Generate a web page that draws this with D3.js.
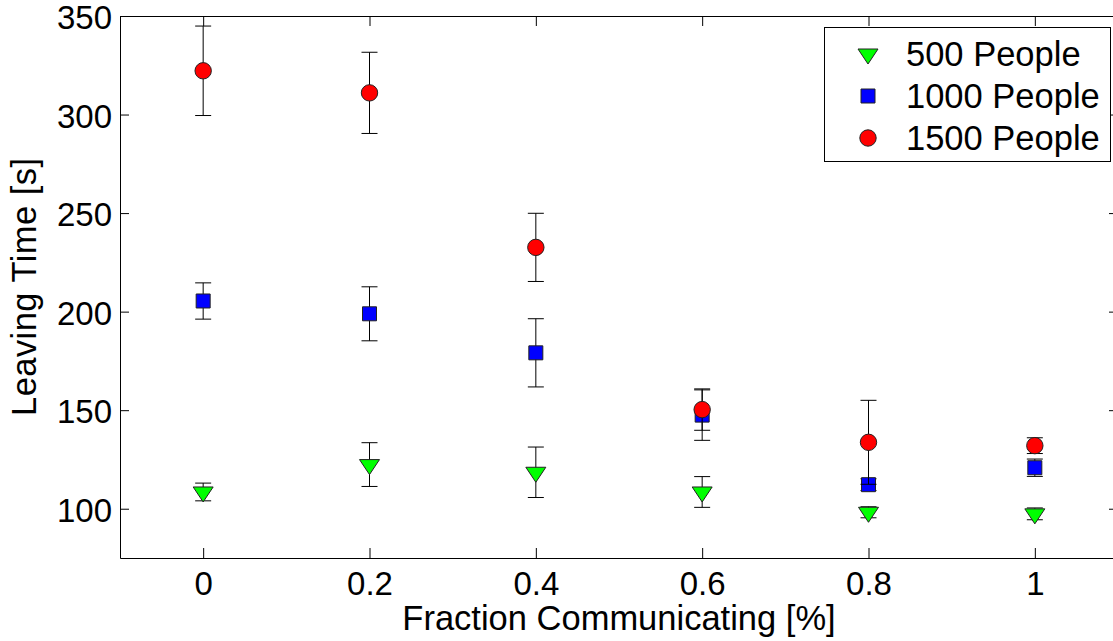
<!DOCTYPE html>
<html lang="en">
<head>
    <meta charset="UTF-8">
    <title>Leaving Time vs Fraction Communicating</title>
    <script src="https://d3js.org/d3.v7.min.js"></script>
    <style>
        body { margin: 0; background: #fff; }
        svg { display: block; font-family: "Liberation Sans", Arial, sans-serif; }
        .axis path, .axis line { stroke: #000; stroke-width: 1px; }
        .axis text { fill: #000; font-family: "Liberation Sans", Arial, sans-serif; }
        .err { stroke: #000; stroke-width: 1px; fill: none; }
        .label { font-size: 34.5px; fill: #000; }
    </style>
</head>
<body>
<svg width="1113" height="641"></svg>
<script>
    // x positions and tick values
    const fractions = [0, 0.2, 0.4, 0.6, 0.8, 1];
    const yTicks = [100, 150, 200, 250, 300, 350];

    // mean leaving time and error half-width per crowd size
    const people500 = [108.5, 122.4, 118.5, 108.5, 98.2, 97.4];
    const err500 = [4.5, 11.1, 12.8, 7.8, 2.8, 3];
    const people1000 = [205.4, 198.9, 179.1, 147.5, 112.2, 120.8];
    const err1000 = [9.2, 13.7, 17.3, 12.8, 3, 4.4];
    const people1500 = [322.2, 311, 232.6, 150.3, 133.7, 132];
    const err1500 = [22.7, 20.6, 17.3, 10.5, 21.3, 4];

    const seriesNames = ["500 People", "1000 People", "1500 People"];

    const svg = d3.select("svg");
    const plot = { left: 120, right: 1118, top: 16, bottom: 558 };

    const x = d3.scaleLinear().domain([-0.1, 1.1]).range([plot.left, plot.right]);
    const y = d3.scaleLinear().domain([75, 350]).range([plot.bottom, plot.top]);

    // axes, ticks pointing inward on all four sides
    svg.append("g").attr("class", "axis")
        .attr("transform", `translate(0,${plot.bottom})`)
        .call(d3.axisBottom(x).tickValues(fractions).tickFormat(d3.format("~g"))
            .tickSizeInner(-10).tickSizeOuter(0).tickPadding(14));
    svg.append("g").attr("class", "axis")
        .attr("transform", `translate(0,${plot.top})`)
        .call(d3.axisTop(x).tickValues(fractions).tickFormat("")
            .tickSizeInner(-10).tickSizeOuter(0));
    const yAxis = svg.append("g").attr("class", "axis")
        .attr("transform", `translate(${plot.left},0)`)
        .call(d3.axisLeft(y).tickValues(yTicks)
            .tickSizeInner(-9).tickSizeOuter(0).tickPadding(8));
    svg.append("g").attr("class", "axis")
        .attr("transform", `translate(${plot.right},0)`)
        .call(d3.axisRight(y).tickValues(yTicks).tickFormat("")
            .tickSizeInner(-9).tickSizeOuter(0));

    svg.selectAll(".axis text").attr("font-size", 33).attr("font-family", null);
    yAxis.selectAll("text").attr("dy", "0.38em");

    // marker shapes
    const triDown = "M-10,-5L10,-5L0,10Z";
    const square = "M-7,-7L7,-7L7,7L-7,7Z";
    const circle = d3.symbol(d3.symbolCircle, Math.PI * 8.2 * 8.2)();

    const series = [
        { name: seriesNames[0], values: people500, errs: err500, path: triDown, color: "#00ff00" },
        { name: seriesNames[1], values: people1000, errs: err1000, path: square, color: "#0000ff" },
        { name: seriesNames[2], values: people1500, errs: err1500, path: circle, color: "#ff0000" }
    ];

    const cap = 8;
    series.forEach(s => {
        const g = svg.append("g");
        const pts = fractions.map((f, i) => ({ f, v: s.values[i], e: s.errs[i] }));
        const bars = g.selectAll(".bar").data(pts).enter().append("g");
        bars.append("line").attr("class", "err")
            .attr("x1", d => x(d.f)).attr("x2", d => x(d.f))
            .attr("y1", d => y(d.v + d.e)).attr("y2", d => y(d.v - d.e));
        bars.append("line").attr("class", "err")
            .attr("x1", d => x(d.f) - cap).attr("x2", d => x(d.f) + cap)
            .attr("y1", d => y(d.v + d.e)).attr("y2", d => y(d.v + d.e));
        bars.append("line").attr("class", "err")
            .attr("x1", d => x(d.f) - cap).attr("x2", d => x(d.f) + cap)
            .attr("y1", d => y(d.v - d.e)).attr("y2", d => y(d.v - d.e));
        g.selectAll(".mark").data(pts).enter().append("path")
            .attr("d", s.path)
            .attr("transform", d => `translate(${x(d.f)},${y(d.v)})`)
            .attr("fill", s.color).attr("stroke", "#222").attr("stroke-width", 1);
    });

    // legend
    const legend = svg.append("g");
    legend.append("rect")
        .attr("x", 824.5).attr("y", 27.5).attr("width", 286).attr("height", 134)
        .attr("fill", "#fff").attr("stroke", "#000").attr("stroke-width", 1);
    series.forEach((s, i) => {
        const cy = 54 + i * 42;
        legend.append("path").attr("d", s.path)
            .attr("transform", `translate(868,${cy})`)
            .attr("fill", s.color).attr("stroke", "#222").attr("stroke-width", 1);
        legend.append("text").attr("class", "label")
            .attr("x", 906).attr("y", cy).attr("dy", "0.36em")
            .text(s.name);
    });

    // axis titles
    svg.append("text").attr("class", "label")
        .attr("x", 619).attr("y", 630)
        .attr("text-anchor", "middle")
        .text("Fraction Communicating [%]");
    svg.append("text").attr("class", "label")
        .attr("transform", `translate(36,${(plot.top + plot.bottom) / 2}) rotate(-90)`)
        .attr("text-anchor", "middle")
        .attr("textLength", 258).attr("lengthAdjust", "spacing")
        .text("Leaving Time [s]");
</script>
</body>
</html>
